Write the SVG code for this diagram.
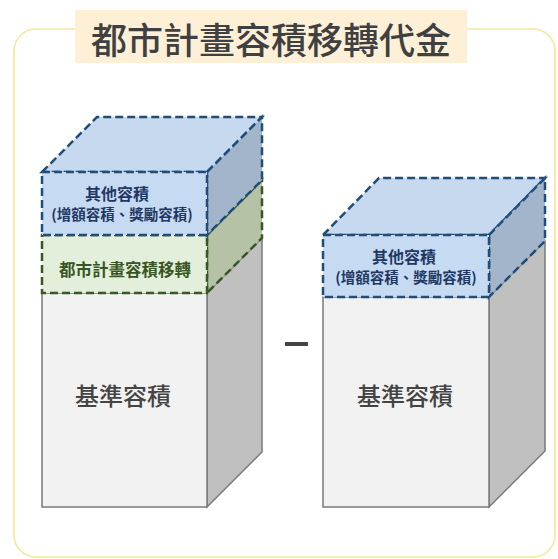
<svg xmlns="http://www.w3.org/2000/svg" width="558" height="559" viewBox="0 0 558 559">
<style>
.t{font-family:"Noto Sans CJK TC","Noto Sans CJK SC",sans-serif;text-anchor:middle}
.b{font-weight:bold}
.gf{fill:#f2f2f2;stroke:#7a7a7a;stroke-width:1.5}
.gs{fill:#c0c0c0;stroke:#7a7a7a;stroke-width:1.5}
.bd{stroke:#1f4e79;stroke-width:2.5;stroke-dasharray:8 4}
.gd{stroke:#385723;stroke-width:2.5;stroke-dasharray:8 4}
</style>
<rect x="0" y="0" width="558" height="559" fill="#ffffff"/>
<rect id="frame" x="14" y="29" width="541" height="528" rx="22" fill="none" stroke="#f7e69c" stroke-width="1.6"/>
<g id="title">
<rect x="75" y="10" width="392" height="53" fill="#fdf0d6"/>
<text class="t" x="271" y="54" font-size="36" font-weight="500" fill="#404040">都市計畫容積移轉代金</text>
</g>
<g id="left-base">
<polygon class="gs" points="207,293 262,238 262,452 207,507"/>
<rect class="gf" x="42" y="293" width="165" height="214"/>
<text class="t" x="123" y="405" font-size="24" font-weight="500" fill="#444444">基準容積</text>
</g>
<g id="left-transfer">
<polygon points="207,235 262,180 262,238 207,293" fill="#b6c2a6" class="gd"/>
<rect x="42" y="235" width="165" height="58" fill="#e3efda" class="gd"/>
<text class="t b" x="125" y="276" font-size="16.5" fill="#375623">都市計畫容積移轉</text>
</g>
<g id="left-other">
<polygon points="42,172 97,117 262,117 207,172" fill="#c6d9ef" class="bd"/>
<polygon points="207,172 262,117 262,180 207,235" fill="#a3b5cb" class="bd"/>
<rect x="42" y="172" width="165" height="63" fill="#c6daf1" class="bd"/>
<text class="t b" x="117" y="200" font-size="16" fill="#1f3864">其他容積</text>
<text class="t b" x="122" y="220" font-size="14.5" fill="#1f3864">(增額容積、獎勵容積)</text>
</g>
<g id="minus">
<rect x="285" y="342" width="23" height="4" fill="#444444"/>
</g>
<g id="right-base">
<polygon class="gs" points="489,297 545,241 545,451 489,507"/>
<rect class="gf" x="323" y="297" width="166" height="210"/>
<text class="t" x="405" y="405" font-size="24" font-weight="500" fill="#444444">基準容積</text>
</g>
<g id="right-other">
<polygon points="323,235 379,178 545,178 489,235" fill="#c6d9ef" class="bd"/>
<polygon points="489,235 545,178 545,241 489,297" fill="#a3b5cb" class="bd"/>
<rect x="323" y="235" width="166" height="62" fill="#c6daf1" class="bd"/>
<text class="t b" x="404" y="263" font-size="16" fill="#1f3864">其他容積</text>
<text class="t b" x="406" y="283" font-size="14.5" fill="#1f3864">(增額容積、獎勵容積)</text>
</g>
</svg>
